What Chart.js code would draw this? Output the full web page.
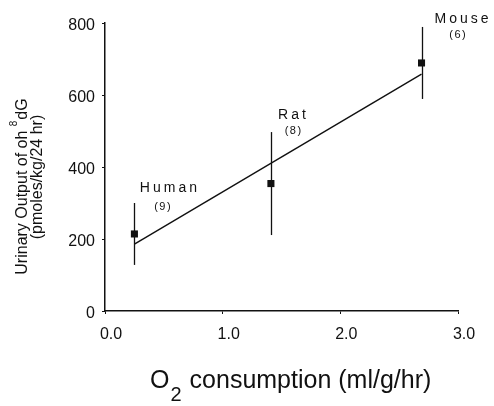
<!DOCTYPE html>
<html>
<head>
<meta charset="utf-8">
<script src="https://cdn.jsdelivr.net/npm/chart.js@4/dist/chart.umd.min.js"></script>
<style>
  html, body { margin: 0; padding: 0; background: #fff; }
  #wrap { width: 494px; height: 406px; }
</style>
</head>
<body>
<div id="wrap"><canvas id="canvas" width="494" height="406"></canvas></div>
<script>
// species means
var species = ['Human', 'Rat', 'Mouse'];
var counts = ['(9)', '(8)', '(6)'];
var o2 = [0.25, 1.41, 2.69];
var output = [214, 354, 689];
var errHigh = [300, 497, 789];
var errLow = [128, 211, 589];

// fitted line, drawn between the first and last species
var fitX = [0.25, 2.69];
var fitY = [186, 658];

var xTicks = [0, 1, 2, 3];
var yTicks = [0, 200, 400, 600, 800];

// label offsets from the marker, in pixels
var nameOff = [[34, -46], [21, -68], [40, -44]];
var countOff = [[28, -27], [22, -53], [36, -28]];

var FONT = '"Liberation Sans", Arial, Helvetica, sans-serif';
var INK = '#111';

var extras = {
    id: 'extras',
    afterDatasetsDraw: function (chart) {
        var ctx = chart.ctx;
        var xs = chart.scales.x, ys = chart.scales.y;
        ctx.save();
        ctx.strokeStyle = INK;
        ctx.lineWidth = 1.3;
        // error bars
        for (var i = 0; i < o2.length; i++) {
            var px = Math.round(xs.getPixelForValue(o2[i])) + 0.5;
            ctx.beginPath();
            ctx.moveTo(px, ys.getPixelForValue(errHigh[i]));
            ctx.lineTo(px, ys.getPixelForValue(errLow[i]));
            ctx.stroke();
        }
        // species names and counts
        ctx.fillStyle = INK;
        ctx.textAlign = 'center';
        ctx.textBaseline = 'middle';
        for (var i = 0; i < species.length; i++) {
            var px = xs.getPixelForValue(o2[i]);
            var py = ys.getPixelForValue(output[i]);
            ctx.font = '14px ' + FONT;
            ctx.letterSpacing = '3px';
            ctx.fillText(species[i], px + nameOff[i][0] + 1.5, py + nameOff[i][1]);
            ctx.font = '11px ' + FONT;
            ctx.letterSpacing = '1.5px';
            ctx.fillText(counts[i], px + countOff[i][0] + 0.75, py + countOff[i][1]);
        }
        ctx.letterSpacing = '0px';

        // x axis title with subscript 2
        ctx.textAlign = 'left';
        ctx.textBaseline = 'alphabetic';
        var x0 = 150;
        ctx.font = '25px ' + FONT;
        ctx.fillText('O', x0, 388);
        x0 += ctx.measureText('O').width + 1;
        ctx.font = '20px ' + FONT;
        ctx.fillText('2', x0, 401);
        x0 += ctx.measureText('2').width + 8;
        ctx.font = '25px ' + FONT;
        ctx.fillText('consumption (ml/g/hr)', x0, 388);

        // y axis title, two lines, superscript 8
        ctx.save();
        ctx.translate(27, 187);
        ctx.rotate(-Math.PI / 2);
        ctx.font = '16px ' + FONT;
        var a = 'Urinary Output of oh ', b = 'dG';
        var wa = ctx.measureText(a).width, wb = ctx.measureText(b).width;
        ctx.font = '10px ' + FONT;
        var ws = ctx.measureText('8').width;
        var start = -(wa + ws + wb) / 2;
        ctx.font = '16px ' + FONT;
        ctx.fillText(a, start, 0);
        ctx.fillText(b, start + wa + ws + 1, 0);
        ctx.font = '10px ' + FONT;
        ctx.fillText('8', start + wa, -10);
        ctx.restore();

        ctx.save();
        ctx.translate(42, 177);
        ctx.rotate(-Math.PI / 2);
        ctx.font = '16px ' + FONT;
        ctx.textAlign = 'center';
        ctx.fillText('(pmoles/kg/24 hr)', 0, 0);
        ctx.restore();

        ctx.restore();
    }
};

var ctx = document.getElementById('canvas').getContext('2d');
new Chart(ctx, {
    type: 'scatter',
    data: {
        datasets: [{
            type: 'line',
            data: fitX.map(function (x, i) { return {x: x, y: fitY[i]}; }),
            borderColor: INK,
            borderWidth: 1.4,
            pointRadius: 0,
            fill: false
        }, {
            data: o2.map(function (x, i) { return {x: x, y: output[i]}; }),
            pointStyle: 'rect',
            pointRadius: 5,
            backgroundColor: INK,
            borderColor: INK,
            borderWidth: 0
        }]
    },
    options: {
        responsive: false,
        animation: false,
        layout: { padding: { top: 23, right: 36, left: 0, bottom: 0 } },
        plugins: {
            legend: { display: false },
            tooltip: { enabled: false }
        },
        scales: {
            x: {
                type: 'linear',
                min: 0, max: 3,
                afterBuildTicks: function (s) { s.ticks = xTicks.map(function (v) { return {value: v}; }); },
                afterFit: function (s) { s.height = 95; },
                border: { display: true, color: INK, width: 1.5 },
                grid: { drawOnChartArea: false, tickLength: 3, color: INK },
                ticks: {
                    color: INK,
                    font: { size: 16, family: FONT },
                    padding: 11,
                    labelOffset: 6,
                    maxRotation: 0,
                    callback: function (v) { return v.toFixed(1); }
                }
            },
            y: {
                min: 0, max: 800,
                afterBuildTicks: function (s) { s.ticks = yTicks.map(function (v) { return {value: v}; }); },
                afterFit: function (s) { s.width = 105; },
                border: { display: true, color: INK, width: 1.5 },
                grid: { drawOnChartArea: false, tickLength: 3, color: INK },
                ticks: {
                    color: INK,
                    font: { size: 16, family: FONT },
                    padding: 7,
                    labelOffset: 3
                }
            }
        }
    },
    plugins: [extras]
});
</script>
</body>
</html>
